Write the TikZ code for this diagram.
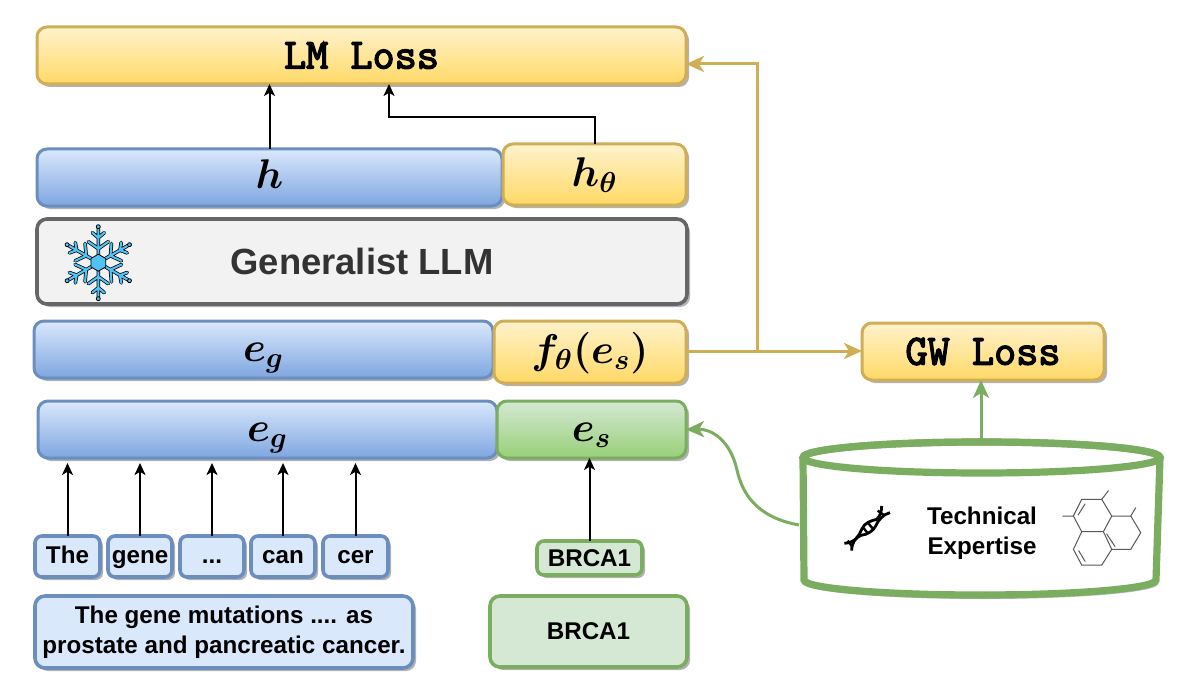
\documentclass[tikz,border=0pt]{standalone}
\usepackage{fontspec}
\setmainfont{Liberation Sans}
\newfontfamily\lossfamily[FakeBold=3.2]{Latin Modern Mono}
\usetikzlibrary{arrows.meta,shadows}
\definecolor{blueline}{HTML}{6C8EBF}
\definecolor{bluetop}{HTML}{DAE8FC}
\definecolor{bluelow}{HTML}{7EA6E0}
\definecolor{yellowline}{HTML}{D0AE55}
\definecolor{yellowtop}{HTML}{FFF2CC}
\definecolor{yellowlow}{HTML}{FFD966}
\definecolor{greenline}{HTML}{7BAD60}
\definecolor{greentop}{HTML}{D5E8D4}
\definecolor{greenlow}{HTML}{97D077}
\definecolor{flakeblue}{HTML}{4FC3F7}
\tikzset{
  box/.style={rectangle,rounded corners=5pt,inner sep=0pt,outer sep=0pt,line width=1.5pt,
    drop shadow={shadow xshift=1.5pt,shadow yshift=-1.5pt,opacity=1,fill=black!30}},
  bluebar/.style={box,draw=blueline,top color=bluetop,bottom color=bluelow},
  yellowbar/.style={box,draw=yellowline,top color=yellowtop,bottom color=yellowlow},
  greenbar/.style={box,draw=greenline,top color=greentop,bottom color=greenlow},
  bluetok/.style={box,rounded corners=3.5pt,draw=blueline,fill=bluetop,line width=1.8pt,font=\fontsize{12.1}{15}\selectfont\bfseries},
  greentok/.style={box,rounded corners=3.5pt,draw=greenline,fill=greentop,line width=1.8pt,font=\fontsize{12.1}{15}\selectfont\bfseries},
  wordtok/.style={bluetok,text height=9pt,text depth=2.5pt},
  lossfont/.style={font=\fontsize{21.5}{25}\selectfont\lossfamily},
  mathfont/.style={font=\fontsize{20.5}{24}\selectfont\boldmath,text height=14pt,text depth=2.5pt},
  blackarrow/.style={draw=black,line width=1pt,-{Stealth[length=6pt,width=5.5pt,inset=1.6pt]}},
  yellowarrow/.style={draw=yellowline,line width=1.5pt,-{Stealth[length=9pt,width=8pt,inset=2.5pt]}},
  greenarrow/.style={draw=greenline,line width=1.5pt,-{Stealth[length=9pt,width=8pt,inset=2.5pt]}},
  molbond/.style={draw=black!65,line width=0.5pt,line cap=round}
}
\begin{document}
\begin{tikzpicture}[x=0.5pt,y=-0.5pt]
\useasboundingbox (0,0) rectangle (1189,690);
% upper bars
\node[yellowbar,lossfont,minimum width=324.5pt,minimum height=28.5pt] (lm) at (361.5,55.5) {LM Loss};
\node[bluebar,mathfont,minimum width=232.5pt,minimum height=28.5pt] (h) at (269.5,177.5) {$h$};
\node[yellowbar,mathfont,minimum width=91.5pt,minimum height=30.5pt] (htheta) at (594.5,174.5) {$h_\theta$};
\node[box,draw=black!60,fill=black!5,line width=1.8pt,minimum width=325pt,minimum height=42.5pt,font=\fontsize{18.2}{22}\selectfont\bfseries,text=black!80] (llm) at (362,261.5) {Generalist LLM};
% embeddings
\node[bluebar,mathfont,minimum width=229.5pt,minimum height=28.5pt] (egup) at (263.5,349.5) {$e_g$};
\node[yellowbar,mathfont,minimum width=96pt,minimum height=31pt] (ftheta) at (590,352) {$f_\theta(e_s)$};
\node[bluebar,mathfont,minimum width=229.5pt,minimum height=28.5pt] (eglow) at (267.5,429.5) {$e_g$};
\node[greenbar,mathfont,minimum width=94.5pt,minimum height=28.5pt] (es) at (591.5,429.5) {$e_s$};
% tokens
\node[wordtok,minimum width=32.5pt,minimum height=20.5pt] (the) at (67.5,556.5) {The\hspace{2pt}};
\node[wordtok,minimum width=32pt,minimum height=20.5pt] (gene) at (140,556.5) {gene};
\node[wordtok,minimum width=32pt,minimum height=20.5pt] (dots) at (212,556.5) {...};
\node[wordtok,minimum width=32pt,minimum height=20.5pt] (can) at (283,556.5) {can};
\node[wordtok,minimum width=32.5pt,minimum height=20.5pt] (cer) at (355.5,556.5) {cer};
\node[bluetok,rounded corners=5pt,align=center,minimum width=189pt,minimum height=36pt] (sentence) at (224,632) {The gene mutations .... as\\prostate and pancreatic cancer.};
\node[greentok,minimum width=52.5pt,minimum height=17pt] (genesmall) at (589.5,558) {BRCA1};
\node[greentok,rounded corners=5pt,minimum width=98.5pt,minimum height=35.5pt] (genebig) at (588.5,631.5) {BRCA1};
% right side
\node[yellowbar,lossfont,minimum width=121pt,minimum height=28.5pt] (gw) at (983,351.5) {GW Loss};
\path[draw=greenline,fill=white,line width=3.6pt,drop shadow={shadow xshift=1pt,shadow yshift=-2pt,opacity=1,fill=black!25}]
  (803,457.5) -- (804,580) arc[start angle=180,end angle=0,x radius=176,y radius=15]
  -- (1160,457.5) arc[start angle=0,end angle=-180,x radius=178.5,y radius=15.5];
\draw[draw=greenline,line width=3.6pt] (981.5,457.5) ellipse[x radius=178.5,y radius=15.5];
\node[align=center,inner sep=0pt,font=\fontsize{12.1}{15}\selectfont\bfseries] (expertise) at (982,533) {Technical\\Expertise};
\coordinate (cyltop) at (981,441);
\coordinate (cylleft) at (799,525);
\coordinate (branch) at (757,351);
\coordinate (lmin) at (686,64);
\coordinate (hbend) at (389,117);
% connectors
\draw[blackarrow] (h.north) -- (h.north |- lm.south);
\draw[blackarrow] (htheta.north) |- (hbend) -- (hbend |- lm.south);
\draw[blackarrow,shorten >=2.5pt] (the.north) -- (the.north |- eglow.south);
\draw[blackarrow,shorten >=2.5pt] (gene.north) -- (gene.north |- eglow.south);
\draw[blackarrow,shorten >=2.5pt] (dots.north) -- (dots.north |- eglow.south);
\draw[blackarrow,shorten >=2.5pt] (can.north) -- (can.north |- eglow.south);
\draw[blackarrow,shorten >=2.5pt] (cer.north) -- (cer.north |- eglow.south);
\draw[blackarrow] (genesmall.north) -- (genesmall.north |- es.south);
\draw[yellowarrow] (ftheta.east |- branch) -- (gw.west |- branch);
\draw[yellowarrow] (branch) |- (lmin);
\draw[greenarrow] (cyltop) -- (cyltop |- gw.south);
\draw[greenarrow] (cylleft) .. controls (755,517) and (742,492) .. (737,470) .. controls (730,440) and (712,429) .. (es.east);
% snowflake
\begin{scope}[shift={(98.3,262.7)}]
\foreach \w/\c in {1.8pt/black,1.05pt/flakeblue}
  \foreach \a in {0,60,...,300}
    \draw[draw=\c,line width=\w,rotate=\a,line cap=round] (0,-8) -- (0,-34) (0,-14) -- (-10,-21) (0,-14) -- (10,-21) (0,-25) -- (-6,-30) (0,-25) -- (6,-30);
\foreach \a in {0,60,...,300}
  \draw[fill=flakeblue,line width=0.4pt,rotate=\a] (0,-36) circle (2);
\draw[fill=flakeblue,line width=0.4pt] (30:8.5) -- (90:8.5) -- (150:8.5) -- (210:8.5) -- (270:8.5) -- (330:8.5) -- cycle;
\end{scope}
% dna icon
\begin{scope}[shift={(835,500)},x=0.1667pt,y=-0.1667pt]
\draw[line width=1.4pt] (28,130) .. controls (60,128) and (72,108) .. (80,88) .. controls (88,68) and (108,62) .. (125,58) .. controls (135,48) and (140,35) .. (140,18);
\draw[line width=1.4pt] (50,152) .. controls (50,128) and (62,112) .. (78,106) .. controls (98,104) and (115,92) .. (122,78) .. controls (128,62) and (145,42) .. (165,38);
\draw[line width=1.2pt] (38,122) -- (52,140) (84,82) -- (100,102) (100,70) -- (115,88) (128,32) -- (148,46);
\end{scope}
% molecule icon
\begin{scope}[shift={(790,420)},x=0.1667pt,y=-0.1667pt]
\draw[molbond] (875,238) -- (935,238) -- (965,288) -- (940,335) -- (875,335) -- (850,288) -- cycle;
\draw[molbond] (935,238) -- (955,212) (850,288) -- (818,288);
\draw[molbond] (965,288) -- (1022,288) -- (1052,338) -- (1022,388) -- (965,388) -- (940,335);
\draw[molbond] (1022,288) -- (1037,263);
\draw[molbond] (875,335) -- (850,388) -- (875,435) -- (935,435) -- (965,388);
\draw[molbond] (864,285) -- (885,252) (950,342) -- (975,380) (866,392) -- (885,424);
\end{scope}
\end{tikzpicture}
\end{document}
